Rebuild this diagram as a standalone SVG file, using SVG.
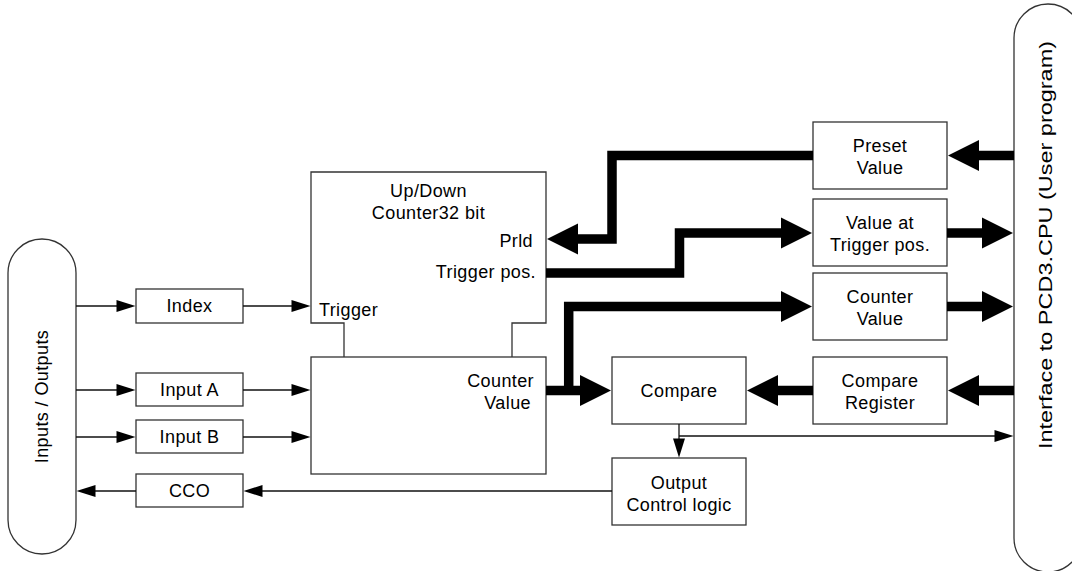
<svg xmlns="http://www.w3.org/2000/svg" width="1072" height="571" viewBox="0 0 1072 571">
<style>
  .box { fill: #fff; stroke: #333; stroke-width: 1.3; }
  .thin { fill: none; stroke: #111; stroke-width: 1.3; }
  .thick { fill: none; stroke: #000; stroke-width: 9.5; stroke-linejoin: miter; stroke-linecap: butt; }
  text { font-family: "Liberation Sans", Arial, sans-serif; font-size: 18px; fill: #000; letter-spacing: 0.4px; }
  .c { text-anchor: middle; }
  .e { text-anchor: end; }
  .v { letter-spacing: 0; }
</style>
<defs>
  <marker id="big" markerUnits="userSpaceOnUse" markerWidth="32" markerHeight="32" refX="1" refY="15.5" orient="auto" overflow="visible">
    <path d="M0,0 L31,15.5 L0,31 Z" fill="#000"/>
  </marker>
  <marker id="sm" markerUnits="userSpaceOnUse" markerWidth="20" markerHeight="13" refX="0.5" refY="6" orient="auto" overflow="visible">
    <path d="M0,0 L19,6 L0,12 Z" fill="#000"/>
  </marker>
</defs>

<g id="io">
  <rect class="box" x="8" y="239" width="68" height="315" rx="34" ry="34"/>
  <text class="c" transform="translate(48,396.5) rotate(-90)">Inputs / Outputs</text>
</g>
<g id="interface">
  <rect class="box" x="1014" y="4" width="68" height="568" rx="34" ry="34"/>
  <text class="c v" transform="translate(1052,245) rotate(-90)" textLength="408" lengthAdjust="spacingAndGlyphs">Interface to PCD3.CPU (User program)</text>
</g>

<g id="index">
  <rect class="box" x="136" y="289" width="107" height="34"/>
  <text class="c" x="189.5" y="312">Index</text>
</g>
<g id="inputA">
  <rect class="box" x="136" y="373" width="107" height="33"/>
  <text class="c" x="189.5" y="396">Input A</text>
</g>
<g id="inputB">
  <rect class="box" x="136" y="420" width="107" height="33"/>
  <text class="c" x="189.5" y="443">Input B</text>
</g>
<g id="cco">
  <rect class="box" x="136" y="474" width="107" height="33"/>
  <text class="c" x="189.5" y="497">CCO</text>
</g>

<g id="counter">
  <path class="box" d="M344,357 V323 H311 V172 H546 V323 H512 V357"/>
  <rect class="box" x="311" y="357" width="235" height="117"/>
  <text class="c" x="428.5" y="197">Up/Down</text>
  <text class="c" x="428.5" y="219">Counter32 bit</text>
  <text class="e" x="533" y="247">Prld</text>
  <text class="e" x="536" y="278">Trigger pos.</text>
  <text x="319" y="316">Trigger</text>
  <text class="e" x="534" y="387">Counter</text>
  <text class="e" x="531" y="409">Value</text>
</g>

<g id="preset">
  <rect class="box" x="813" y="122" width="134" height="67"/>
  <text class="c" x="880" y="152">Preset</text>
  <text class="c" x="880" y="174">Value</text>
</g>
<g id="valtrig">
  <rect class="box" x="813" y="199" width="134" height="67"/>
  <text class="c" x="880" y="229">Value at</text>
  <text class="c" x="880" y="251">Trigger pos.</text>
</g>
<g id="counterval">
  <rect class="box" x="813" y="273" width="134" height="67"/>
  <text class="c" x="880" y="303">Counter</text>
  <text class="c" x="880" y="325">Value</text>
</g>
<g id="compreg">
  <rect class="box" x="813" y="357" width="134" height="67"/>
  <text class="c" x="880" y="387">Compare</text>
  <text class="c" x="880" y="409">Register</text>
</g>
<g id="compare">
  <rect class="box" x="612" y="357" width="134" height="67"/>
  <text class="c" x="679" y="397">Compare</text>
</g>
<g id="outctrl">
  <rect class="box" x="612" y="458" width="134" height="67"/>
  <text class="c" x="679" y="489">Output</text>
  <text class="c" x="679" y="511">Control logic</text>
</g>

<g id="connectors">
  <path class="thin" d="M76,306 H117" marker-end="url(#sm)"/>
  <path class="thin" d="M243,306 H292" marker-end="url(#sm)"/>
  <path class="thin" d="M76,390 H117" marker-end="url(#sm)"/>
  <path class="thin" d="M243,390 H292" marker-end="url(#sm)"/>
  <path class="thin" d="M76,437 H117" marker-end="url(#sm)"/>
  <path class="thin" d="M243,437 H292" marker-end="url(#sm)"/>
  <path class="thin" d="M612,491 H262" marker-end="url(#sm)"/>
  <path class="thin" d="M136,491 H95" marker-end="url(#sm)"/>
  <path class="thin" d="M679,424 V439" marker-end="url(#sm)"/>
  <path class="thin" d="M679,436 H995" marker-end="url(#sm)"/>

  <path class="thick" d="M813,155.5 H612 V239 H577" marker-end="url(#big)"/>
  <path class="thick" d="M546,273 H679.5 V233 H782" marker-end="url(#big)"/>
  <path class="thick" d="M546,390.5 H581" marker-end="url(#big)"/>
  <path class="thick" d="M568.7,390.5 V306.5 H782" marker-end="url(#big)"/>
  <path class="thick" d="M947,233 H983" marker-end="url(#big)"/>
  <path class="thick" d="M947,306.5 H983" marker-end="url(#big)"/>
  <path class="thick" d="M1014,155.5 H978" marker-end="url(#big)"/>
  <path class="thick" d="M1014,390.5 H978" marker-end="url(#big)"/>
  <path class="thick" d="M813,390.5 H777" marker-end="url(#big)"/>
</g>
</svg>
